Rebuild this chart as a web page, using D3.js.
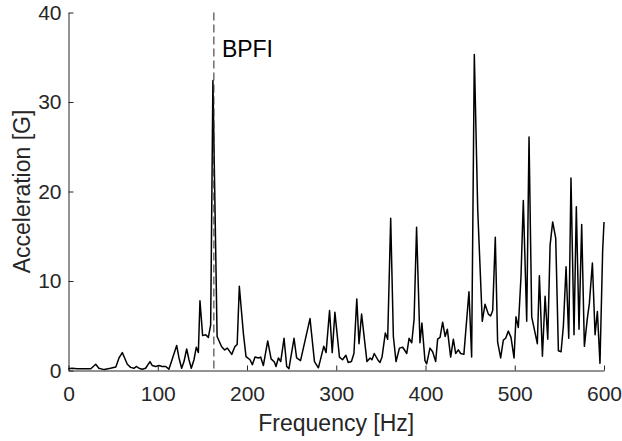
<!DOCTYPE html>
<html>
<head>
<meta charset="utf-8">
<script src="https://cdn.jsdelivr.net/npm/d3@7"></script>
<style>
  body { margin: 0; background: #fff; }
  svg { display: block; font-family: "Liberation Sans", Arial, sans-serif; }
</style>
</head>
<body>
<svg width="622" height="441"></svg>
<script>
// spectrum
const freq = [0, 4, 10, 18, 25, 30.5, 34, 40, 47, 53, 56.6, 60.3, 62.9, 65.9, 69.6, 73.3, 76.3, 78.9, 82.7, 86.4,
  91.3, 93.9, 97.6, 101.4, 105, 109, 112.5, 116, 121.2, 123.8, 126.8, 129.4, 132.4, 135, 137.6, 140.6, 143.2, 145.5,
  147.3, 150.3, 153.7, 156.7, 159.3, 161.8, 166.5, 171.6, 175, 178, 182.9, 186.6, 189, 191.4, 196, 198.9, 203.4,
  206, 209, 212.7, 215.3, 218.3, 223.2, 227, 230.7, 232.5, 235.2, 237.8, 241.5, 244.5, 247, 252.7, 255.6, 260,
  270.6, 275.6, 280, 286, 288.6, 292.5, 295.5, 298.5, 303.6, 307, 310.8, 313.4, 317, 319.8, 323, 325.5, 328.4,
  334.4, 338, 340, 342.6, 346.5, 349, 351.3, 355, 357.6, 361, 364, 367, 370.8, 374.5, 379, 381.6, 384.6, 387.2,
  390, 393.8, 396, 399.4, 401.3, 405, 408, 411.4, 413.6, 416.3, 419.2, 422, 424.5, 428.2, 431.2, 433.8, 436.8,
  439.4, 443, 448.7, 451.7, 454.7, 458.5, 463.6, 466.7, 470.4, 473, 475.3, 478.2, 480.8, 484.2, 487.2, 489.8,
  492.8, 495.8, 499.2, 501.4, 504, 507, 509.6, 513.4, 516, 519, 525.3, 527.6, 531, 534, 537, 539.6, 542.5, 545.9,
  548.9, 551.9, 554.5, 557.5, 560.5, 563, 566.4, 569, 572, 575, 578, 581.3, 583.6, 587, 590, 592.6, 595.5, 598.5, 600];
const accel = [0.2, 0.25, 0.2, 0.2, 0.2, 0.7, 0.25, 0.1, 0.25, 0.4, 1.4, 2.0, 1.4, 0.7, 0.35, 0.25, 0.45, 0.25, 0.15, 0.25,
  1.0, 0.55, 0.45, 0.55, 0.45, 0.45, 0.15, 1.2, 2.8, 1.4, 0.25, 1.0, 2.4, 1.2, 0.25, 1.2, 2.6, 2.0,
  7.8, 3.9, 4.0, 3.7, 5.1, 32.4, 3.8, 2.66, 2.3, 2.5, 1.8, 2.7, 2.9, 9.4, 4.1, 1.55, 1.2,
  0.65, 1.5, 1.4, 1.5, 0.55, 3.3, 1.3, 0.95, 0.45, 1.4, 1.0, 3.6, 0.45, 0.2, 3.6, 1.4, 1.1,
  5.8, 1.0, 0.3, 2.7, 2.0, 6.7, 2.0, 6.5, 1.5, 1.2, 1.7, 0.9, 1.0, 1.9, 8.0, 3.0, 6.3,
  1.0, 1.4, 1.2, 1.9, 1.2, 0.9, 1.5, 4.2, 3.5, 17.0, 3.8, 1.0, 2.5, 2.6, 1.9, 3.6, 3.1, 5.7,
  16.0, 3.1, 5.3, 1.1, 0.75, 2.5, 2.1, 1.0, 3.5, 3.7, 5.4, 3.8, 4.6, 1.5, 3.5, 1.9, 2.3,
  1.9, 1.8, 8.8, 1.5, 35.3, 18, 5.5, 7.4, 6.3, 6.1, 6.7, 14.9, 3.2, 1.4, 3.4, 3.6,
  4.4, 3.7, 1.4, 6.0, 4.8, 10.5, 19.0, 5.5, 26.1, 6.0, 3.0, 10.6, 1.6, 8.3, 3.5, 14.0, 16.6, 14.8,
  2.2, 2.1, 5.0, 11.6, 3.6, 21.5, 4.0, 18.3, 4.6, 16.3, 2.7, 5.8, 7.5, 12.0, 4.0, 6.6, 0.8, 13.4, 16.6];

const xTicks = [0, 100, 200, 300, 400, 500, 600];
const yTicks = [0, 10, 20, 30, 40];
const bpfi = 162.9;
const bpfiLabel = 'BPFI';
const xLabel = 'Frequency [Hz]';
const yLabel = 'Acceleration [G]';

const ink = '#262626';
const svg = d3.select('svg');

const x = d3.scaleLinear().domain([0, 600]).range([68.5, 604]);
const y = d3.scaleLinear().domain([0, 40]).range([370.5, 12.5]);

// axes, MATLAB style: ticks inward, no box
const xAxis = svg.append('g')
  .attr('transform', `translate(0, ${y(0)})`)
  .call(d3.axisBottom(x).tickValues(xTicks).tickSizeInner(-5).tickSizeOuter(0).tickPadding(16));
const yAxis = svg.append('g')
  .attr('transform', `translate(${x(0)}, 0)`)
  .call(d3.axisLeft(y).tickValues(yTicks).tickSizeInner(-5).tickSizeOuter(0).tickPadding(7));

[xAxis, yAxis].forEach(g => {
  g.select('.domain').attr('stroke', ink);
  g.selectAll('.tick line').attr('stroke', ink);
  g.selectAll('.tick text')
    .attr('fill', ink)
    .style('font-size', '21px')
    .style('font-family', '"Liberation Sans", Arial, sans-serif');
});

// spectrum
const pts = freq.map((f, i) => [f, accel[i]]);
svg.append('path')
  .datum(pts)
  .attr('fill', 'none')
  .attr('stroke', '#000')
  .attr('stroke-width', 1.5)
  .attr('stroke-linejoin', 'round')
  .attr('d', d3.line().x(d => x(d[0])).y(d => y(d[1])));

// BPFI marker
svg.append('line')
  .attr('x1', x(bpfi)).attr('x2', x(bpfi))
  .attr('y1', y(40)).attr('y2', y(0))
  .attr('stroke', ink)
  .attr('stroke-width', 1)
  .attr('stroke-dasharray', '8,4');
svg.append('text')
  .attr('x', x(bpfi) + 8)
  .attr('y', 57)
  .attr('fill', '#000')
  .style('font-size', '23px')
  .text(bpfiLabel);

// axis labels
svg.append('text')
  .attr('x', (x(0) + x(600)) / 2)
  .attr('y', 431)
  .attr('text-anchor', 'middle')
  .attr('fill', ink)
  .style('font-size', '23px')
  .text(xLabel);
svg.append('text')
  .attr('transform', `translate(30, ${(y(0) + y(40)) / 2}) rotate(-90)`)
  .attr('text-anchor', 'middle')
  .attr('fill', ink)
  .style('font-size', '23px')
  .text(yLabel);
</script>
</body>
</html>
